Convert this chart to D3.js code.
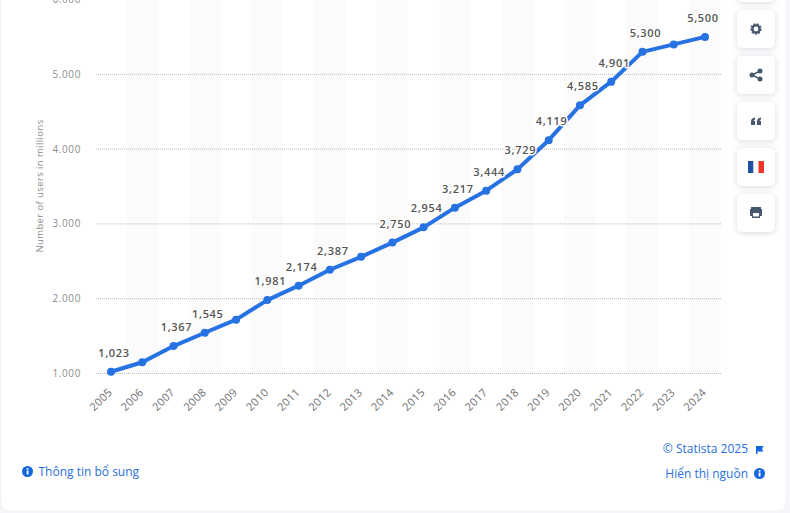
<!DOCTYPE html>
<html>
<head>
<meta charset="utf-8">
<title>Internet users worldwide</title>
<script src="https://cdn.jsdelivr.net/npm/d3@7"></script>
<style>
  html, body {margin: 0; padding: 0; background: #f4f6fa; overflow: hidden;}
  svg {display: block; font-family: "Open Sans", sans-serif;}
  .grid line {stroke: #bbb; stroke-width: 1; stroke-dasharray: 1 1;}
  .ytick {font-size: 10px; fill: #8c8c8c; letter-spacing: .6px;}
  .xtick {font-size: 11px; fill: #6e6e6e; letter-spacing: .3px;}
  .val {font-size: 11px; font-weight: 600; fill: #555; letter-spacing: .7px;
        paint-order: stroke; stroke: #fff; stroke-width: 3px; stroke-linejoin: round;}
  .link {font-size: 12px; fill: #2a6fdb;}
</style>
</head>
<body>
<svg id="chart" width="790" height="513"></svg>
<script>
var years = [2005,2006,2007,2008,2009,2010,2011,2012,2013,2014,2015,2016,2017,2018,2019,2020,2021,2022,2023,2024];
var users = [1023,1150,1367,1545,1720,1981,2174,2387,2560,2750,2954,3217,3444,3729,4119,4585,4901,5300,5400,5500];
var labelled = [2005,2007,2008,2010,2011,2012,2014,2015,2016,2017,2018,2019,2020,2021,2022,2024];
var yTicks = [1000,2000,3000,4000,5000,6000];
var yTickLabels = ['1.000','2.000','3.000','4.000','5.000','6.000'];

var svg = d3.select('#chart');
var blue = '#2672e3';

// card
svg.append('rect').attr('x', 1).attr('y', -20).attr('width', 785).attr('height', 531)
  .attr('rx', 8).attr('fill', '#fff').attr('stroke', '#f3f4f6');

var x = d3.scalePoint().domain(years).range([111, 705]);
var y = d3.scaleLinear().domain([1000, 6000]).range([373.5, -0.5]);
var band = x.step();

// shaded columns
svg.append('g').selectAll('rect')
  .data(years.filter(function(d){ return d % 2 == 0; }))
  .enter().append('rect')
  .attr('x', function(d){ return x(d) - band / 2; })
  .attr('width', band)
  .attr('y', y(6000))
  .attr('height', y(1000) - y(6000))
  .attr('fill', '#fbfbfb');

// grid
var grid = svg.append('g').attr('class', 'grid');
grid.selectAll('line').data(yTicks).enter().append('line')
  .attr('x1', 96).attr('x2', 721)
  .attr('y1', function(d){ return y(d); })
  .attr('y2', function(d){ return y(d); });

// y axis
svg.append('g').selectAll('text').data(yTicks).enter().append('text')
  .attr('class', 'ytick')
  .attr('x', 81).attr('text-anchor', 'end')
  .attr('y', function(d){ return y(d) + 3.5; })
  .text(function(d, i){ return yTickLabels[i]; });

svg.append('text').attr('class', 'ytick')
  .attr('transform', 'translate(43,186) rotate(-90)')
  .attr('text-anchor', 'middle')
  .style('font-size', '9.5px').style('letter-spacing', '.4px')
  .text('Number of users in millions');

// x axis
svg.append('g').selectAll('text').data(years).enter().append('text')
  .attr('class', 'xtick')
  .attr('text-anchor', 'end')
  .attr('transform', function(d){ return 'translate(' + (x(d) + 2) + ',393) rotate(-45)'; })
  .text(function(d){ return d; });

// line
var line = d3.line()
  .x(function(d, i){ return x(years[i]); })
  .y(function(d){ return y(d); });

svg.append('path').datum(users)
  .attr('d', line).attr('fill', 'none')
  .attr('stroke', blue).attr('stroke-width', 4).attr('stroke-linejoin', 'round');

svg.append('g').selectAll('circle').data(users).enter().append('circle')
  .attr('cx', function(d, i){ return x(years[i]); })
  .attr('cy', function(d){ return y(d); })
  .attr('r', 4).attr('fill', blue);

// value labels, nudged right except the last which would run off the plot
svg.append('g').selectAll('text')
  .data(labelled)
  .enter().append('text')
  .attr('class', 'val')
  .attr('text-anchor', 'middle')
  .attr('x', function(d){ return x(d) + (d == 2024 ? -2 : 3); })
  .attr('y', function(d){ return y(users[years.indexOf(d)]) - 15; })
  .text(function(d){ return d3.format(',')(users[years.indexOf(d)]); });

// side buttons
var btnTop = [-36, 10, 56, 102, 148, 194];
svg.append('g').selectAll('rect').data(btnTop).enter().append('rect')
  .attr('x', 737).attr('y', function(d){ return d; })
  .attr('width', 38).attr('height', 38).attr('rx', 5)
  .attr('fill', '#fff')
  .style('filter', 'drop-shadow(0 1px 3px rgba(60,80,110,.22))');

var iconColor = '#46586e';
// gear
svg.append('circle').attr('cx', 756).attr('cy', 29).attr('r', 3.6).attr('fill', 'none')
  .attr('stroke', iconColor).attr('stroke-width', 2.4);
svg.append('circle').attr('cx', 756).attr('cy', 29).attr('r', 5).attr('fill', 'none')
  .attr('stroke', iconColor).attr('stroke-width', 1.4).attr('stroke-dasharray', '2 1.4');
// share
svg.append('path').attr('d', 'M760 71 L752 75 L760 79').attr('fill', 'none')
  .attr('stroke', iconColor).attr('stroke-width', 1.4);
[[760,71],[752,75],[760,79]].forEach(function(p){
  svg.append('circle').attr('cx', p[0]).attr('cy', p[1]).attr('r', 2.5).attr('fill', iconColor);
});
// quote
svg.append('path').attr('d', 'M751 125 V121.5 Q751 118 755 117.5 V119.5 Q753.5 120 753.5 121 H755 V125 Z M757 125 V121.5 Q757 118 761 117.5 V119.5 Q759.5 120 759.5 121 H761 V125 Z')
  .attr('fill', iconColor);
// flag
svg.append('rect').attr('x', 748).attr('y', 161).attr('width', 5.5).attr('height', 12).attr('fill', '#1f4fa3');
svg.append('rect').attr('x', 753.5).attr('y', 161).attr('width', 5).attr('height', 12).attr('fill', '#fff');
svg.append('rect').attr('x', 758.5).attr('y', 161).attr('width', 5.5).attr('height', 12).attr('fill', '#f0352b');
// print
svg.append('path').attr('d', 'M751 209 V207 H761 V209 H762 V216 H760 V218 H752 V216 H750 V209 Z M753 213 V216.5 H759 V213 Z')
  .attr('fill', iconColor).attr('fill-rule', 'evenodd');

// footer links
function info(cx, cy) {
  svg.append('circle').attr('cx', cx).attr('cy', cy).attr('r', 5.5).attr('fill', '#1565e0');
  svg.append('rect').attr('x', cx - .8).attr('y', cy - 1).attr('width', 1.8).attr('height', 4).attr('fill', '#fff');
  svg.append('rect').attr('x', cx - .8).attr('y', cy - 3.4).attr('width', 1.8).attr('height', 1.6).attr('fill', '#fff');
}
info(27.5, 471.5);
svg.append('text').attr('class', 'link').attr('x', 38.5).attr('y', 476).text('Thông tin bổ sung');
svg.append('text').attr('class', 'link').attr('x', 748).attr('y', 453).attr('text-anchor', 'end').text('© Statista 2025');
svg.append('path').attr('d', 'M756 446 H763.5 L762 449 L763.5 451.5 H757.5 V454 H756 Z').attr('fill', '#1565e0');
svg.append('text').attr('class', 'link').attr('x', 748).attr('y', 478).attr('text-anchor', 'end').text('Hiển thị nguồn');
info(759.5, 473.5);
</script>
</body>
</html>
